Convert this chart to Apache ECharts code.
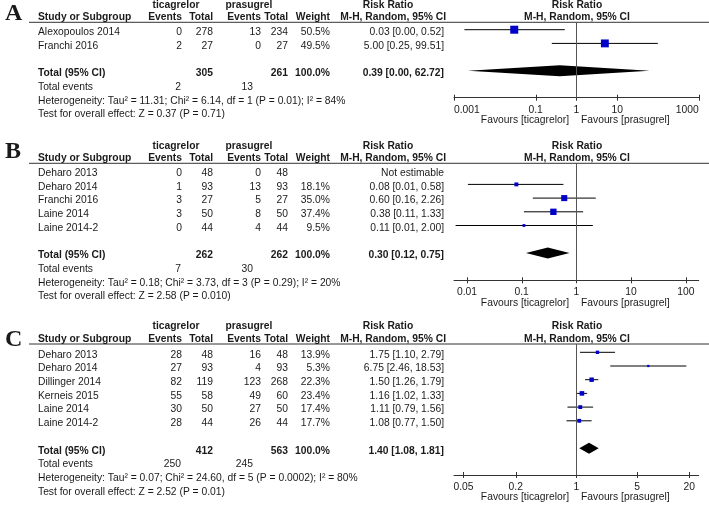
<!DOCTYPE html>
<html><head><meta charset="utf-8">
<script src="https://cdn.jsdelivr.net/npm/echarts@6/dist/echarts.min.js"></script>
<style>html,body{margin:0;padding:0;background:#fff}#c{width:709px;height:505px}</style>
</head><body><div id="c"></div>
<script>
// ===== Panel A =====
const studiesA   = ['Alexopoulos 2014', 'Franchi 2016'];
const ticEventsA = [0, 2];
const ticTotalA  = [278, 27];
const praEventsA = [13, 0];
const praTotalA  = [234, 27];
const weightA    = [50.5, 49.5];
const rrA        = [0.03, 5.00];
const ciLowA     = [0.0018, 0.25];
const ciHighA    = [0.52, 99.51];
const totalsA    = [305, 261];          // total participants (ticagrelor, prasugrel)
const totalEventsA = [2, 13];
const pooledA    = [0.39, 0.0022, 62.72];
const hetA  = 'Heterogeneity: Tau\u00b2 = 11.31; Chi\u00b2 = 6.14, df = 1 (P = 0.01); I\u00b2 = 84%';
const testA = 'Test for overall effect: Z = 0.37 (P = 0.71)';
const ticksA = [0.001, 0.1, 1, 10, 1000];
const rangeA = [0.001, 1000];

// ===== Panel B =====
const studiesB   = ['Deharo 2013', 'Deharo 2014', 'Franchi 2016', 'Laine 2014', 'Laine 2014-2'];
const ticEventsB = [0, 1, 3, 3, 0];
const ticTotalB  = [48, 93, 27, 50, 44];
const praEventsB = [0, 13, 5, 8, 4];
const praTotalB  = [48, 93, 27, 50, 44];
const weightB    = [null, 18.1, 35.0, 37.4, 9.5];
const rrB        = [null, 0.08, 0.60, 0.38, 0.11];
const ciLowB     = [null, 0.0104, 0.16, 0.11, 0.0062];
const ciHighB    = [null, 0.58, 2.26, 1.33, 2.00];
const totalsB    = [262, 262];
const totalEventsB = [7, 30];
const pooledB    = [0.30, 0.12, 0.75];
const hetB  = 'Heterogeneity: Tau\u00b2 = 0.18; Chi\u00b2 = 3.73, df = 3 (P = 0.29); I\u00b2 = 20%';
const testB = 'Test for overall effect: Z = 2.58 (P = 0.010)';
const ticksB = [0.01, 0.1, 1, 10, 100];
const rangeB = [0.0058, 172];

// ===== Panel C =====
const studiesC   = ['Deharo 2013', 'Deharo 2014', 'Dillinger 2014', 'Kerneis 2015', 'Laine 2014', 'Laine 2014-2'];
const ticEventsC = [28, 27, 82, 55, 30, 28];
const ticTotalC  = [48, 93, 119, 58, 50, 44];
const praEventsC = [16, 4, 123, 49, 27, 26];
const praTotalC  = [48, 93, 268, 60, 50, 44];
const weightC    = [13.9, 5.3, 22.3, 23.4, 17.4, 17.7];
const rrC        = [1.75, 6.75, 1.50, 1.16, 1.11, 1.08];
const ciLowC     = [1.10, 2.46, 1.26, 1.02, 0.79, 0.77];
const ciHighC    = [2.79, 18.53, 1.79, 1.33, 1.56, 1.50];
const totalsC    = [412, 563];
const totalEventsC = [250, 245];
const pooledC    = [1.40, 1.08, 1.81];
const hetC  = 'Heterogeneity: Tau\u00b2 = 0.07; Chi\u00b2 = 24.60, df = 5 (P = 0.0002); I\u00b2 = 80%';
const testC = 'Test for overall effect: Z = 2.52 (P = 0.01)';
const ticksC = [0.05, 0.2, 1, 5, 20];
const rangeC = [0.0389, 25.7];

const panelLetters = ['A', 'B', 'C'];
const favoursLeft  = 'Favours [ticagrelor]';
const favoursRight = 'Favours [prasugrel]';

// ===== layout (styles / positions) =====
const FONT = 'Liberation Sans, Arial, sans-serif';
const FS = 10.3;
const TXT = '#1a1a1a';
const STEP = 13.7;
const layouts = [
  { top: 22.3, axisY: 97.7, rowOff: 7.4, letterY: 14, alignMin: 'left', alignMax: 'right' },
  { top: 163.3, axisY: 280.3, rowOff: 7.4, letterY: 152, alignMin: null, alignMax: null },
  { top: 344, axisY: 475, rowOff: 8.3, letterY: 340, alignMin: null, alignMax: null }
];
const COL = { study: 38, ev1: 182, tot1: 213, ev2: 261, tot2: 288, wt: 330, rr: 444, tev1: 181, tev2: 253 };
const PLOT_L = 454, PLOT_R = 698.7;

const panels = [
  { studies: studiesA, te: ticEventsA, tt: ticTotalA, pe: praEventsA, pt: praTotalA, w: weightA, rr: rrA, lo: ciLowA, hi: ciHighA,
    totals: totalsA, tev: totalEventsA, pooled: pooledA, het: hetA, test: testA, ticks: ticksA, range: rangeA },
  { studies: studiesB, te: ticEventsB, tt: ticTotalB, pe: praEventsB, pt: praTotalB, w: weightB, rr: rrB, lo: ciLowB, hi: ciHighB,
    totals: totalsB, tev: totalEventsB, pooled: pooledB, het: hetB, test: testB, ticks: ticksB, range: rangeB },
  { studies: studiesC, te: ticEventsC, tt: ticTotalC, pe: praEventsC, pt: praTotalC, w: weightC, rr: rrC, lo: ciLowC, hi: ciHighC,
    totals: totalsC, tev: totalEventsC, pooled: pooledC, het: hetC, test: testC, ticks: ticksC, range: rangeC }
];

const lg = Math.log10;
const fmtRR = (r, l, h) => r.toFixed(2) + ' [' + l.toFixed(2) + ', ' + h.toFixed(2) + ']';

const grids = [], xAxes = [], yAxes = [], series = [], graphics = [];

function txt(x, y, s, align, bold, size, family) {
  graphics.push({ type: 'text', x: x, y: y, silent: true,
    style: { text: String(s), fill: TXT, align: align || 'left', verticalAlign: 'middle',
      fontFamily: family || FONT, fontSize: size || FS, fontWeight: bold ? 'bold' : 'normal' } });
}

panels.forEach((p, i) => {
  const L = layouts[i];
  const n = p.studies.length;
  const rowY = k => L.top + L.rowOff + k * STEP + 2.5;   // text row centre
  const gh = L.axisY - L.top;
  const yMin = -L.rowOff / STEP, yMax = (gh - L.rowOff) / STEP;
  grids.push({ left: PLOT_L, right: 709 - PLOT_R, top: L.top, height: gh });
  const tickVals = p.ticks.map(lg);
  const labelOf = v => { for (const t of p.ticks) if (Math.abs(lg(t) - v) < 1e-6) return String(t); return ''; };
  xAxes.push({ type: 'value', gridIndex: i, position: 'bottom', min: lg(p.range[0]), max: lg(p.range[1]),
    axisLine: { show: true, onZero: false, lineStyle: { color: '#333', width: 1 } },
    axisTick: { show: false },
    axisLabel: { show: true, customValues: tickVals, formatter: labelOf, margin: 7, color: TXT, fontSize: FS, fontFamily: FONT,
      alignMinLabel: L.alignMin, alignMaxLabel: L.alignMax, showMinLabel: true, showMaxLabel: true, hideOverlap: false },
    splitLine: { show: false } });
  yAxes.push({ type: 'value', gridIndex: i, inverse: true, show: false, min: yMin, max: yMax });

  // tick marks crossing the axis line
  series.push({ type: 'custom', xAxisIndex: i, yAxisIndex: i, silent: true, clip: false,
    data: tickVals.map(v => [v, yMax]),
    renderItem: (params, api) => {
      const c = api.coord([api.value(0), api.value(1)]);
      const x = Math.round(c[0]) + 0.5;
      return { type: 'line', shape: { x1: x, y1: c[1] - 3, x2: x, y2: c[1] + 3 }, style: { stroke: '#333', lineWidth: 1 } };
    } });

  // study marks
  const studyData = [];
  p.rr.forEach((r, k) => { if (r != null) studyData.push([lg(r), k, lg(p.lo[k]), lg(p.hi[k]), p.w[k]]); });
  series.push({ type: 'custom', xAxisIndex: i, yAxisIndex: i, silent: true, clip: false, data: studyData,
    renderItem: (params, api) => {
      const y = api.value(1);
      const c = api.coord([api.value(0), y]);
      const l = api.coord([api.value(2), y]);
      const h = api.coord([api.value(3), y]);
      const s = 1.6 + 0.127 * api.value(4);
      return { type: 'group', children: [
        { type: 'line', shape: { x1: l[0], y1: c[1], x2: h[0], y2: c[1] }, style: { stroke: '#000', lineWidth: 1 } },
        { type: 'rect', shape: { x: c[0] - s / 2, y: c[1] - s / 2, width: s, height: s }, style: { fill: '#0000c8' } }
      ] };
    },
    markLine: { silent: true, symbol: 'none', animation: false, label: { show: false },
      lineStyle: { color: '#555', width: 1, type: 'solid' }, data: [{ xAxis: lg(1) }] }
  });
  // pooled diamond
  series.push({ type: 'custom', xAxisIndex: i, yAxisIndex: i, silent: true, clip: false,
    data: [[lg(p.pooled[0]), n + 1, lg(p.pooled[1]), lg(p.pooled[2])]],
    renderItem: (params, api) => {
      const y = api.value(1);
      const c = api.coord([api.value(0), y]);
      const l = api.coord([api.value(2), y]);
      const h = api.coord([api.value(3), y]);
      const hh = 5.5;
      return { type: 'polygon', shape: { points: [[l[0], c[1]], [c[0], c[1] - hh], [h[0], c[1]], [c[0], c[1] + hh]] },
        style: { fill: '#000' } };
    } });

  // header
  graphics.push({ type: 'line', silent: true, shape: { x1: 29, y1: L.top, x2: 709, y2: L.top }, style: { stroke: '#333', lineWidth: 1 } });
  const h1 = L.top - 17.5, h2 = L.top - 5;
  txt(5, L.letterY, panelLetters[i], 'left', true, 24, 'Liberation Serif, Times New Roman, serif');
  txt(176, h1, 'ticagrelor', 'center', true);
  txt(249, h1, 'prasugrel', 'center', true);
  txt(388, h1, 'Risk Ratio', 'center', true);
  txt(577, h1, 'Risk Ratio', 'center', true);
  txt(COL.study, h2, 'Study or Subgroup', 'left', true);
  txt(COL.ev1, h2, 'Events', 'right', true);
  txt(COL.tot1, h2, 'Total', 'right', true);
  txt(COL.ev2, h2, 'Events', 'right', true);
  txt(COL.tot2, h2, 'Total', 'right', true);
  txt(COL.wt, h2, 'Weight', 'right', true);
  txt(446, h2, 'M-H, Random, 95% CI', 'right', true);
  txt(577, h2, 'M-H, Random, 95% CI', 'center', true);

  // study rows
  p.studies.forEach((s, k) => {
    const y = rowY(k);
    txt(COL.study, y, s, 'left');
    txt(COL.ev1, y, p.te[k], 'right');
    txt(COL.tot1, y, p.tt[k], 'right');
    txt(COL.ev2, y, p.pe[k], 'right');
    txt(COL.tot2, y, p.pt[k], 'right');
    if (p.w[k] != null) txt(COL.wt, y, p.w[k].toFixed(1) + '%', 'right');
    txt(COL.rr, y, p.rr[k] != null ? fmtRR(p.rr[k], p.lo[k], p.hi[k]) : 'Not estimable', 'right');
  });
  // totals
  const yt = rowY(n + 1);
  txt(COL.study, yt, 'Total (95% CI)', 'left', true);
  txt(COL.tot1, yt, p.totals[0], 'right', true);
  txt(COL.tot2, yt, p.totals[1], 'right', true);
  txt(COL.wt, yt, '100.0%', 'right', true);
  txt(COL.rr, yt, fmtRR(p.pooled[0], p.pooled[1], p.pooled[2]), 'right', true);
  const ye = rowY(n + 2);
  txt(COL.study, ye, 'Total events', 'left');
  txt(COL.tev1, ye, p.tev[0], 'right');
  txt(COL.tev2, ye, p.tev[1], 'right');
  txt(COL.study, rowY(n + 3), p.het, 'left');
  txt(COL.study, rowY(n + 4), p.test, 'left');
  // favours
  txt(569, L.axisY + 22.5, favoursLeft, 'right');
  txt(581, L.axisY + 22.5, favoursRight, 'left');
});

const chart = echarts.init(document.getElementById('c'), null, { renderer: 'canvas' });
chart.setOption({ animation: false, backgroundColor: '#fff', grid: grids, xAxis: xAxes, yAxis: yAxes, series: series, graphic: graphics });
</script></body></html>
